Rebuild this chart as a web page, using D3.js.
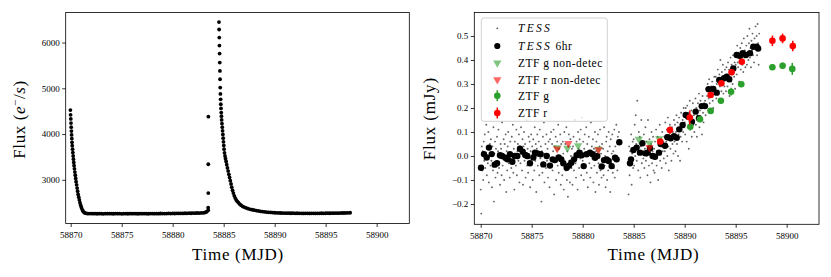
<!DOCTYPE html>
<html><head><meta charset="utf-8">
<script src="https://cdn.jsdelivr.net/npm/d3@7"></script>
<style>
body{margin:0;background:#fff}
svg{display:block}
svg text{font-family:"Liberation Serif","DejaVu Serif",serif !important;fill:#000}
</style>
</head><body>
<svg id="c" width="831" height="277"></svg>
<script>
// ---------------- DATA ----------------
// Left panel: TESS raw flux (e-/s) vs MJD
const leftTime = [
58869.97,58869.99,58870.01,58870.03,58870.05,58870.07,58870.09,58870.11,58870.13,58870.15,
58870.18,58870.21,58870.24,58870.27,58870.30,58870.33,58870.37,58870.41,58870.45,58870.49,
58870.53,58870.58,58870.63,58870.68,58870.73,58870.79,58870.85,58870.91,58870.98,58871.05,
58871.13,58871.21,58871.30,58871.40,58871.52,58871.65,58871.80,
58872.0,58872.2,58872.4,58872.6,58872.8,58873.0,58873.2,58873.4,58873.6,58873.8,
58874.0,58874.2,58874.4,58874.6,58874.8,58875.0,58875.2,58875.4,58875.6,58875.8,
58876.0,58876.2,58876.4,58876.6,58876.8,58877.0,58877.2,58877.4,58877.6,58877.8,
58878.0,58878.2,58878.4,58878.6,58878.8,58879.0,58879.2,58879.4,58879.6,58879.8,
58880.0,58880.2,58880.4,58880.6,58880.8,58881.0,58881.2,58881.4,58881.6,58881.8,
58882.0,58882.2,58882.4,58882.6,58882.8,58883.0,58883.15,58883.25,58883.35,
58883.48,58883.48,58883.49,58883.49,58883.50,
58884.54,58884.555,58884.57,58884.585,58884.60,58884.615,58884.63,58884.645,58884.66,58884.68,
58884.70,58884.72,58884.74,58884.76,58884.78,58884.80,58884.83,58884.86,58884.89,58884.92,
58884.95,58884.98,58885.01,58885.04,58885.08,58885.13,58885.18,58885.24,58885.30,58885.37,
58885.44,58885.51,58885.58,58885.65,58885.72,58885.79,58885.87,58885.95,58886.04,58886.13,
58886.23,58886.33,58886.45,58886.57,58886.70,58886.85,58887.0,58887.2,58887.4,58887.6,
58887.8,58888.0,58888.2,58888.4,58888.6,58888.8,58889.0,58889.2,58889.4,58889.6,
58889.8,58890.0,58890.2,58890.4,58890.6,58890.8,58891.0,58891.2,58891.4,58891.6,
58891.8,58892.0,58892.2,58892.4,58892.6,58892.8,58893.0,58893.2,58893.4,58893.6,
58893.8,58894.0,58894.2,58894.4,58894.6,58894.8,58895.0,58895.2,58895.4,58895.6,
58895.8,58896.0,58896.2,58896.4,58896.6,58896.8,58897.0,58897.2,58897.4
];
const leftFlux = [
4525,4420,4330,4240,4150,4065,3980,3900,3820,3745,
3670,3595,3520,3450,3380,3310,3240,3170,3100,3030,
2960,2890,2820,2750,2680,2620,2560,2500,2445,2395,
2350,2315,2290,2275,2267,2263,2262,
2262,2259,2261,2258,2262,2260,2257,2261,2259,2263,
2260,2258,2262,2259,2261,2257,2260,2262,2258,2261,
2259,2262,2260,2258,2261,2259,2263,2260,2258,2262,
2261,2259,2262,2260,2264,2261,2263,2262,2265,2263,
2266,2264,2267,2265,2268,2266,2269,2268,2270,2269,
2272,2271,2274,2273,2276,2278,2284,2292,2305,
2335,2390,2710,3340,4380,
6447,6285,6110,5934,5759,5562,5380,5198,5015,4877,
4760,4651,4560,4470,4390,4310,4230,4150,4070,3990,
3910,3830,3750,3670,3590,3520,3460,3400,3330,3260,
3190,3120,3050,2980,2910,2840,2770,2710,2650,2600,
2560,2530,2500,2470,2445,2420,2405,2385,2370,2355,
2345,2336,2328,2320,2312,2305,2300,2295,2290,2286,
2283,2280,2278,2276,2274,2273,2272,2271,2270,2269,
2270,2268,2269,2267,2268,2266,2268,2267,2266,2268,
2267,2266,2268,2267,2269,2268,2269,2270,2269,2271,
2270,2272,2271,2273,2274,2275,2276,2278,2280
];
const leftXTicks = [58870,58875,58880,58885,58890,58895,58900];
const leftYTicks = [3000,4000,5000,6000];

// Right panel: TESS raw (20 per day cadence), mJy
const tessStart1 = 58870.00, tessStart2 = 58884.50, tessStep = 0.05;
const tessRaw1 = [
-0.14,-0.24,0.04,-0.06,0.02,-0.10,0.06,-0.02,0.09,-0.05,0.01,0.13,-0.08,0.03,-0.03,0.10,-0.11,0.00,0.05,-0.04,
0.07,-0.02,-0.13,0.04,-0.06,0.12,-0.19,0.01,0.06,-0.09,0.03,-0.03,0.08,-0.07,0.02,0.11,-0.05,0.00,-0.12,0.05,
0.03,-0.08,0.14,-0.04,0.00,0.07,-0.10,0.05,-0.02,0.09,-0.15,0.02,-0.06,0.04,0.10,-0.03,0.01,-0.09,0.06,-0.01,
-0.05,0.08,-0.01,0.13,-0.07,0.03,-0.14,0.06,0.00,-0.04,0.11,-0.08,0.02,0.05,-0.02,0.09,-0.11,0.04,-0.03,0.12,
0.01,-0.06,0.07,-0.12,0.04,0.10,-0.02,0.05,-0.09,0.00,0.15,-0.04,0.03,-0.07,0.08,-0.01,0.06,-0.13,0.02,0.09,
-0.03,0.04,-0.10,0.07,0.01,-0.06,0.12,-0.02,0.05,-0.15,0.03,0.09,-0.04,0.00,0.06,-0.08,0.11,-0.01,0.04,-0.19,
0.02,-0.07,0.08,-0.03,0.14,-0.11,0.01,0.05,-0.05,0.09,-0.02,0.03,-0.09,0.06,0.00,-0.13,0.07,-0.04,0.10,-0.01,
0.05,-0.06,0.02,0.11,-0.16,0.04,-0.02,0.08,-0.10,0.00,0.06,-0.04,0.13,-0.07,0.03,-0.01,0.09,-0.12,0.05,-0.03,
-0.08,0.06,0.01,-0.14,0.10,-0.03,0.05,-0.06,0.12,-0.10,0.02,-0.17,0.04,0.09,-0.02,-0.11,0.07,0.00,-0.05,0.03,
-0.12,0.04,0.08,-0.06,0.01,0.15,-0.03,-0.09,0.06,0.00,-0.14,0.10,0.03,-0.05,0.07,-0.01,0.11,-0.08,0.02,0.16,
-0.02,0.06,-0.10,0.03,0.09,-0.04,0.00,0.12,-0.07,0.05,-0.13,0.02,0.08,-0.03,0.01,-0.09,0.14,-0.05,0.04,-0.01,
0.07,-0.11,0.03,-0.04,0.10,-0.15,0.02,0.06,-0.07,0.00,0.09,-0.03,-0.12,0.04,0.11,-0.06,0.01,-0.09,0.05,-0.02,
0.03,-0.08,0.12,-0.04,0.00,-0.13,0.06,0.08,-0.10,0.02,-0.06,0.10,-0.02,0.04,-0.15,0.07,-0.03,0.01,0.09,-0.07,
0.02,-0.05,0.11,-0.09,0.04,-0.02,0.13,0.00,-0.06,0.08,0.05,0.10
];
const tessRaw2 = [
-0.16,0.04,-0.08,0.02,-0.03,0.09,-0.12,0.01,0.06,-0.05,
0.07,-0.04,0.13,0.00,0.17,0.05,-0.02,0.23,0.03,-0.06,0.10,0.01,0.08,-0.09,0.04,0.15,-0.03,0.06,0.02,-0.01,
0.09,-0.05,0.03,0.12,-0.02,0.06,0.00,-0.08,0.15,0.04,-0.04,0.07,0.01,-0.11,0.05,0.10,-0.03,0.02,0.08,-0.06,
0.03,-0.07,0.06,0.00,0.11,-0.04,0.02,0.08,-0.10,0.05,0.01,0.13,-0.02,0.07,0.04,-0.05,0.10,0.02,0.06,-0.01,
0.08,0.02,0.14,-0.03,0.06,0.11,0.00,0.16,0.04,-0.06,0.09,0.13,0.03,0.07,-0.02,0.12,0.05,0.10,0.01,0.15,
0.06,0.13,0.02,0.10,0.17,0.05,0.14,0.00,0.09,0.16,0.11,-0.02,0.08,0.18,0.13,0.06,0.15,0.10,0.20,0.12,
0.14,0.09,0.20,0.16,0.06,0.21,0.12,0.18,0.03,0.17,0.23,0.11,0.15,0.19,0.08,0.16,0.22,0.13,0.17,0.10,
0.18,0.24,0.13,0.20,0.08,0.17,0.22,0.15,0.26,0.12,0.19,0.23,0.16,0.21,0.09,0.25,0.18,0.14,0.22,0.20,
0.23,0.17,0.28,0.21,0.25,0.30,0.19,0.24,0.32,0.22,0.27,0.18,0.29,0.25,0.31,0.23,0.20,0.28,0.33,0.26,
0.28,0.33,0.24,0.30,0.27,0.36,0.31,0.23,0.34,0.29,0.40,0.32,0.27,0.35,0.30,0.38,0.26,0.33,0.29,0.36,
0.32,0.27,0.37,0.34,0.29,0.39,0.33,0.36,0.25,0.35,0.41,0.31,0.38,0.34,0.30,0.42,0.36,0.33,0.39,0.28,
0.38,0.42,0.34,0.46,0.39,0.37,0.43,0.31,0.41,0.45,0.36,0.40,0.47,0.38,0.43,0.35,0.49,0.41,0.44,0.37,
0.42,0.46,0.38,0.50,0.43,0.40,0.47,0.53,0.41,0.45,0.37,0.48,0.44,0.51,0.42,0.46,0.39,0.49,0.45,0.54,
0.46,0.50,0.42,0.55,0.47,0.38,0.51
];
// TESS 6-hour bins
const tess6Time = [
58870.03,58870.32,58870.59,58870.81,58871.08,58871.37,58871.60,58871.89,58872.09,58872.42,
58872.64,58872.87,58873.10,58873.36,58873.59,58873.85,58874.12,58874.37,58874.57,58874.83,
58875.16,58875.32,58875.55,58875.88,58876.14,58876.47,58876.79,58877.06,58877.28,58877.65,
58877.90,58878.10,58878.43,58878.66,58878.89,58879.15,58879.41,58879.67,58879.90,58880.10,
58880.39,58880.72,58880.98,58881.21,58881.43,58881.86,58882.09,58882.35,58882.55,58882.84,
58883.17,58883.33,58883.59,
58884.64,58884.74,58884.97,58885.29,58885.62,58885.85,58886.14,58886.37,58886.60,58886.86,
58887.09,58887.48,58887.65,58888.07,58888.30,58888.63,58888.95,58889.22,58889.47,58889.80,
58890.10,58890.35,58890.71,58891.08,58891.40,58891.67,58891.99,58892.35,58892.80,58893.14,
58893.39,58893.85,58894.12,58894.37,58894.77,58895.10,58895.42,58895.69,58896.00,58896.40,
58896.73,58897.06,58897.20
];
const tess6Flux = [
-0.049,0.008,-0.006,0.035,0.008,-0.036,-0.030,0.003,0.000,-0.007,
-0.014,0.007,-0.024,0.000,0.000,0.030,0.018,0.004,0.000,-0.030,
-0.006,0.014,0.011,0.007,-0.035,0.000,-0.040,-0.014,-0.017,-0.006,
-0.014,-0.030,-0.049,-0.040,-0.028,-0.014,0.003,0.014,0.003,-0.042,
0.007,0.014,0.007,-0.007,0.000,-0.044,-0.017,-0.014,-0.021,-0.042,
-0.007,-0.014,0.057,
-0.030,-0.014,0.025,0.035,0.014,0.053,0.011,0.014,0.032,0.000,
-0.003,0.014,0.050,0.043,0.078,0.074,0.083,0.076,0.111,0.129,
0.171,0.164,0.143,0.185,0.157,0.208,0.208,0.278,0.279,0.264,
0.317,0.324,0.330,0.320,0.365,0.421,0.417,0.428,0.421,0.428,
0.455,0.455,0.448
];
// ZTF non-detections (upper limits)
const ztfGndTime = [58877.50,58878.50,58879.55,58881.55,58885.50,58886.55,58887.50];
const ztfGndFlux = [0.035,0.033,0.043,0.028,0.070,0.053,0.072];
const ztfRndTime = [58877.50,58878.60,58881.55,58886.55];
const ztfRndFlux = [0.030,0.052,0.026,0.036];
// ZTF detections
const ztfGTime = [58890.55,58891.50,58892.55,58893.55,58894.55,58895.55,58898.60,58899.60,58900.55];
const ztfGFlux = [0.122,0.153,0.188,0.230,0.268,0.299,0.370,0.376,0.363];
const ztfGErr  = [0.015,0.012,0.010,0.012,0.016,0.012,0.012,0.014,0.025];
const ztfRTime = [58887.60,58888.55,58890.50,58892.55,58893.60,58894.60,58895.60,58898.60,58899.60,58900.60];
const ztfRFlux = [0.060,0.108,0.160,0.254,0.303,0.349,0.393,0.480,0.490,0.458];
const ztfRErr  = [0.010,0.015,0.030,0.010,0.012,0.012,0.012,0.022,0.020,0.022];
const rightXTicks = [58870,58875,58880,58885,58890,58895,58900];
const rightYTicks = [-0.2,-0.1,0.0,0.1,0.2,0.3,0.4,0.5];
const legendLabels = ["TESS","TESS 6hr","ZTF g non-detec","ZTF r non-detec","ZTF g","ZTF r"];

// ---------------- DRAW ----------------
const FONT = '"Liberation Serif","DejaVu Serif",serif';
const GREEN = "#2ca02c", RED = "#ff0000";
const svg = d3.select("#c");
svg.append("rect").attr("width",831).attr("height",277).attr("fill","#fff");

function styleAxis(g){
  g.attr("font-family",FONT);
  g.select(".domain").remove();
  g.selectAll(".tick line").attr("stroke","#000").attr("stroke-width",0.8);
  g.selectAll(".tick text").attr("font-family",FONT).style("font-size","9px");
}

// ---- Left panel ----
const L = {x0:65.7,x1:409.3,y0:12.5,y1:223.5};
const lx = d3.scaleLinear().domain([58869.51,58903.2]).range([L.x0,L.x1]);
const ly = d3.scaleLinear().domain([2045,6657]).range([L.y1,L.y0]);
const gl = svg.append("g");
gl.append("g").selectAll("circle").data(leftTime.map((t,i)=>[t,leftFlux[i]])).join("circle")
  .attr("cx",d=>lx(d[0])).attr("cy",d=>ly(d[1])).attr("r",1.9).attr("fill","#000");
gl.append("g").attr("transform",`translate(0,${L.y1})`)
  .call(d3.axisBottom(lx).tickValues(leftXTicks).tickFormat(d3.format("d")).tickSize(3.5).tickPadding(4.5))
  .call(styleAxis);
gl.append("g").attr("transform",`translate(${L.x0},0)`)
  .call(d3.axisLeft(ly).tickValues(leftYTicks).tickFormat(d3.format("d")).tickSize(3.5).tickPadding(2.5))
  .call(styleAxis);
gl.append("rect").attr("x",L.x0).attr("y",L.y0).attr("width",L.x1-L.x0).attr("height",L.y1-L.y0)
  .attr("fill","none").attr("stroke","#000").attr("stroke-width",0.8);
gl.append("text").attr("x",(L.x0+L.x1)/2+0.5).attr("y",259.5).attr("text-anchor","middle").attr("font-family",FONT)
  .style("font-size","17px").style("letter-spacing","0.7px").text("Time (MJD)");
const yl = gl.append("text").attr("transform","translate(25,119.5) rotate(-90)").attr("text-anchor","middle").attr("font-family",FONT)
  .style("font-size","17px").style("letter-spacing","0.6px");
yl.append("tspan").text("Flux (");
yl.append("tspan").style("font-style","italic").text("e");
yl.append("tspan").attr("dy",-6).style("font-size","11px").text("\u2212");
yl.append("tspan").attr("dy",6).text("/");
yl.append("tspan").style("font-style","italic").text("s");
yl.append("tspan").text(")");

// ---- Right panel ----
const R = {x0:474.3,x1:819,y0:12.5,y1:224.3};
const rx = d3.scaleLinear().domain([58869.373,58903.17]).range([R.x0,R.x1]);
const ry = d3.scaleLinear().domain([-0.2846,0.5979]).range([R.y1,R.y0]);
const gr = svg.append("g");
const raw = tessRaw1.map((v,i)=>[tessStart1+i*tessStep,v]).concat(tessRaw2.map((v,i)=>[tessStart2+i*tessStep,v]));
gr.append("g").selectAll("circle").data(raw).join("circle")
  .attr("cx",d=>rx(d[0])).attr("cy",d=>ry(d[1])).attr("r",0.95).attr("fill","#555").attr("opacity",0.9);
gr.append("g").selectAll("circle").data(tess6Time.map((t,i)=>[t,tess6Flux[i]])).join("circle")
  .attr("cx",d=>rx(d[0])).attr("cy",d=>ry(d[1])).attr("r",3.2).attr("fill","#000");
const tri = d3.symbol().type(d3.symbolTriangle).size(30);
function triangles(ts,vs,col){
  gr.append("g").selectAll("path").data(ts.map((t,i)=>[t,vs[i]])).join("path")
    .attr("d",tri).attr("transform",d=>`translate(${rx(d[0])},${ry(d[1])}) rotate(180)`)
    .attr("fill",col).attr("opacity",0.6);
}
triangles(ztfGndTime,ztfGndFlux,GREEN);
triangles(ztfRndTime,ztfRndFlux,RED);
function errPts(ts,vs,es,col){
  const g = gr.append("g");
  const d = ts.map((t,i)=>[t,vs[i],es[i]]);
  g.selectAll("line").data(d).join("line")
    .attr("x1",p=>rx(p[0])).attr("x2",p=>rx(p[0]))
    .attr("y1",p=>ry(p[1]-p[2])).attr("y2",p=>ry(p[1]+p[2]))
    .attr("stroke",col).attr("stroke-width",1.5);
  g.selectAll("circle").data(d).join("circle")
    .attr("cx",p=>rx(p[0])).attr("cy",p=>ry(p[1])).attr("r",3.3).attr("fill",col);
}
errPts(ztfGTime,ztfGFlux,ztfGErr,GREEN);
errPts(ztfRTime,ztfRFlux,ztfRErr,RED);

gr.append("g").attr("transform",`translate(0,${R.y1})`)
  .call(d3.axisBottom(rx).tickValues(rightXTicks).tickFormat(d3.format("d")).tickSize(3.5).tickPadding(4.5))
  .call(styleAxis);
gr.append("g").attr("transform",`translate(${R.x0},0)`)
  .call(d3.axisLeft(ry).tickValues(rightYTicks).tickFormat(d3.format(".1f")).tickSize(3.5).tickPadding(2.5))
  .call(styleAxis);
gr.append("rect").attr("x",R.x0).attr("y",R.y0).attr("width",R.x1-R.x0).attr("height",R.y1-R.y0)
  .attr("fill","none").attr("stroke","#000").attr("stroke-width",0.8);
gr.append("text").attr("x",653.5).attr("y",259.5).attr("text-anchor","middle").attr("font-family",FONT)
  .style("font-size","17px").style("letter-spacing","0.7px").text("Time (MJD)");
gr.append("text").attr("transform","translate(435,118.7) rotate(-90)").attr("text-anchor","middle").attr("font-family",FONT)
  .style("font-size","17px").style("letter-spacing","0.8px").text("Flux (mJy)");

// Legend
const lg = gr.append("g");
lg.append("rect").attr("x",481.3).attr("y",18).attr("width",126).attr("height",103.3).attr("rx",2.5)
  .attr("fill","#fff").attr("fill-opacity",0.8).attr("stroke","#cccccc").attr("stroke-width",0.9);
const rowY = [28.3,46,63,79.7,95.7,113];
const mx = 497.3, tx = 518;
lg.append("circle").attr("cx",mx).attr("cy",rowY[0]).attr("r",0.9).attr("fill","#555");
lg.append("circle").attr("cx",mx).attr("cy",rowY[1]).attr("r",3.1).attr("fill","#000");
lg.append("path").attr("d",tri).attr("transform",`translate(${mx},${rowY[2]}) rotate(180)`).attr("fill",GREEN).attr("opacity",0.6);
lg.append("path").attr("d",tri).attr("transform",`translate(${mx},${rowY[3]}) rotate(180)`).attr("fill",RED).attr("opacity",0.6);
[[rowY[4],GREEN],[rowY[5],RED]].forEach(([y,c])=>{
  lg.append("line").attr("x1",mx).attr("x2",mx).attr("y1",y-5.5).attr("y2",y+5.5).attr("stroke",c).attr("stroke-width",1.5);
  lg.append("circle").attr("cx",mx).attr("cy",y).attr("r",3.3).attr("fill",c);
});
legendLabels.forEach((lab,i)=>{
  const t = lg.append("text").attr("x",tx).attr("y",rowY[i]).attr("dy","0.35em").attr("font-family",FONT)
    .style("font-size","11.5px").style("letter-spacing","0.5px");
  if(lab.startsWith("TESS")){
    t.append("tspan").style("font-style","italic").style("letter-spacing","2.3px").text("TESS");
    const rest = lab.slice(4);
    if(rest) t.append("tspan").text(rest);
  } else t.text(lab);
});
</script>
</body></html>
